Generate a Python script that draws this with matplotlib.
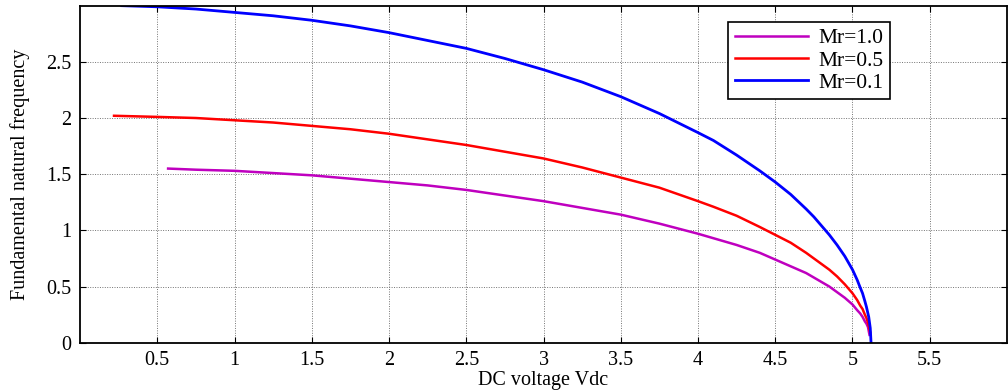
import matplotlib
matplotlib.use('Agg')
import matplotlib.pyplot as plt

plt.rcParams['font.family'] = ['Liberation Serif', 'DejaVu Serif']

# readings from the picture: Vdc and fundamental natural frequency
vdc_m10 = [0.57, 0.75, 1, 1.25, 1.5, 1.75, 2, 2.25, 2.5, 2.75,
           3, 3.25, 3.5, 3.75, 4, 4.1, 4.25, 4.4, 4.5, 4.6,
           4.7, 4.75, 4.8, 4.85, 4.9, 4.95, 5.0, 5.03, 5.05, 5.065,
           5.08, 5.09, 5.1, 5.11]
f_m10 = [1.55, 1.54, 1.53, 1.51, 1.49, 1.46, 1.43, 1.40, 1.36, 1.31,
         1.26, 1.20, 1.14, 1.06, 0.97, 0.93, 0.87, 0.80, 0.74, 0.68,
         0.62, 0.58, 0.54, 0.50, 0.45, 0.40, 0.34, 0.29, 0.26, 0.23,
         0.19, 0.17, 0.14, 0.07]

vdc_m05 = [0.22, 0.5, 0.75, 1, 1.25, 1.5, 1.75, 2, 2.25, 2.5,
           2.75, 3, 3.25, 3.5, 3.75, 4, 4.1, 4.25, 4.4, 4.5,
           4.6, 4.7, 4.75, 4.8, 4.85, 4.9, 4.95, 5.0, 5.03, 5.05,
           5.065, 5.08, 5.09, 5.1, 5.115]
f_m05 = [2.02, 2.01, 2.00, 1.98, 1.96, 1.93, 1.90, 1.86, 1.81, 1.76,
         1.70, 1.64, 1.56, 1.47, 1.38, 1.26, 1.21, 1.13, 1.03, 0.96,
         0.89, 0.80, 0.75, 0.70, 0.65, 0.59, 0.52, 0.44, 0.38, 0.33,
         0.30, 0.25, 0.22, 0.18, 0.09]

vdc_m01 = [0.27, 0.5, 0.75, 1, 1.25, 1.5, 1.75, 2, 2.25, 2.5,
           2.75, 3, 3.25, 3.5, 3.75, 4, 4.1, 4.25, 4.4, 4.5,
           4.6, 4.7, 4.75, 4.8, 4.85, 4.9, 4.95, 5.0, 5.03, 5.05,
           5.065, 5.08, 5.09, 5.1, 5.105, 5.115, 5.12]
f_m01 = [3.00, 2.99, 2.97, 2.94, 2.91, 2.87, 2.82, 2.76, 2.69, 2.62,
         2.53, 2.43, 2.32, 2.19, 2.04, 1.87, 1.80, 1.67, 1.53, 1.43,
         1.32, 1.19, 1.12, 1.04, 0.96, 0.87, 0.77, 0.65, 0.56, 0.49,
         0.44, 0.37, 0.32, 0.26, 0.23, 0.13, 0.0]

xticks = [0.5, 1, 1.5, 2, 2.5, 3, 3.5, 4, 4.5, 5, 5.5]
xticklabels = ['0.5', '1', '1.5', '2', '2.5', '3', '3.5', '4', '4.5', '5', '5.5']
yticks = [0, 0.5, 1, 1.5, 2, 2.5]
yticklabels = ['0', '0.5', '1', '1.5', '2', '2.5']

fig = plt.figure(figsize=(10.08, 3.91), dpi=100)
ax = fig.add_axes([0.0794, 0.1235, 0.9196, 0.862])

ax.plot(vdc_m10, f_m10, color='#bf00bf', lw=1.8, label='Mr=1.0')
ax.plot(vdc_m05, f_m05, color='#ff0000', lw=1.8, label='Mr=0.5')
ax.plot(vdc_m01, f_m01, color='#0000ff', lw=2.0, label='Mr=0.1')

ax.set_xlim(0, 6)
ax.set_ylim(0, 3)
ax.set_xticks(xticks)
ax.set_xticklabels(xticklabels)
ax.set_yticks(yticks)
ax.set_yticklabels(yticklabels)
ax.tick_params(direction='in', top=True, right=True, length=4, labelsize=14.5, pad=6)
ax.grid(True, color='0.45', ls=(0, (1, 1.5)), lw=0.7)
for s in ax.spines.values():
    s.set_linewidth(1.3)

ax.set_xlabel('DC voltage Vdc', fontsize=14.5, labelpad=1)
ax.set_ylabel('Fundamental natural frequency', fontsize=14.5, labelpad=12)

leg = ax.legend(loc='upper right', bbox_to_anchor=(0.874, 0.952), fontsize=15.5,
                handlelength=3.4, fancybox=False, edgecolor='black',
                framealpha=1, borderpad=0.3, labelspacing=0.1, handletextpad=0.5,
                borderaxespad=0)
leg.get_frame().set_linewidth(1.2)

fig.savefig('out.png', dpi=100)
